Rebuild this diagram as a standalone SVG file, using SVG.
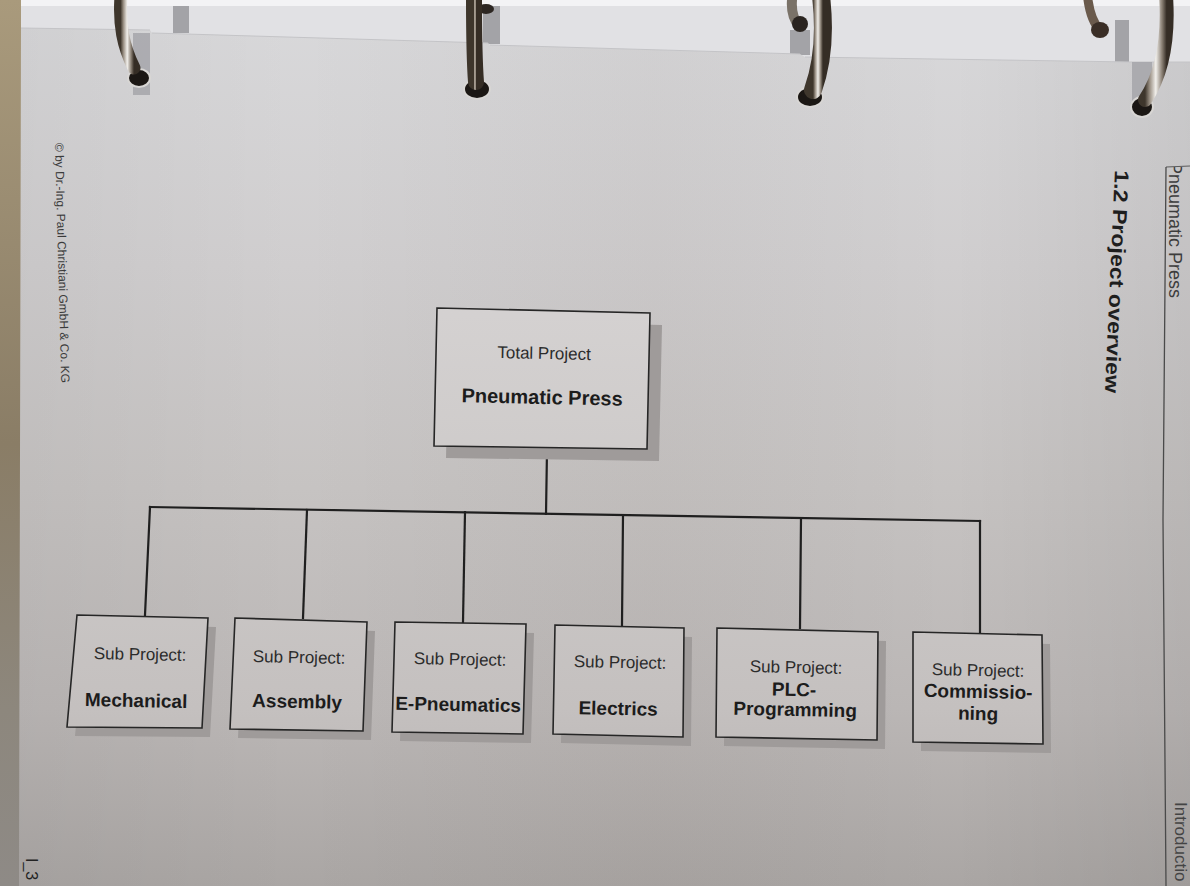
<svg xmlns="http://www.w3.org/2000/svg" width="1190" height="886" viewBox="0 0 1190 886">
  <defs>
    <linearGradient id="paper" gradientUnits="userSpaceOnUse" x1="0" y1="0" x2="0" y2="886">
      <stop offset="0" stop-color="#d9d9db"/>
      <stop offset="0.3" stop-color="#d0cecf"/>
      <stop offset="0.55" stop-color="#c6c3c2"/>
      <stop offset="0.8" stop-color="#bbb7b6"/>
      <stop offset="1" stop-color="#aaa6a4"/>
    </linearGradient>
    <linearGradient id="paperSide" gradientUnits="userSpaceOnUse" x1="0" y1="0" x2="1190" y2="0">
      <stop offset="0" stop-color="#000" stop-opacity="0.04"/>
      <stop offset="0.25" stop-color="#000" stop-opacity="0"/>
      <stop offset="0.55" stop-color="#3a2a20" stop-opacity="0.04"/>
      <stop offset="0.8" stop-color="#000" stop-opacity="0"/>
      <stop offset="1" stop-color="#000" stop-opacity="0.06"/>
    </linearGradient>
    <linearGradient id="boxFill" gradientUnits="userSpaceOnUse" x1="0" y1="0" x2="0" y2="886">
      <stop offset="0" stop-color="#dedcdd"/>
      <stop offset="0.3" stop-color="#d6d3d3"/>
      <stop offset="0.55" stop-color="#cdcac9"/>
      <stop offset="0.8" stop-color="#c4c0bf"/>
      <stop offset="1" stop-color="#b4b0ae"/>
    </linearGradient>
    <linearGradient id="binder" x1="0" y1="0" x2="0" y2="1">
      <stop offset="0" stop-color="#a99a7c"/>
      <stop offset="0.5" stop-color="#8a7d66"/>
      <stop offset="0.8" stop-color="#8d877d"/>
      <stop offset="1" stop-color="#8e8a86"/>
    </linearGradient>
    <linearGradient id="metal" x1="0" y1="0" x2="1" y2="0">
      <stop offset="0" stop-color="#3e362c"/>
      <stop offset="0.22" stop-color="#9a9084"/>
      <stop offset="0.5" stop-color="#f2f0ec"/>
      <stop offset="0.78" stop-color="#8c8276"/>
      <stop offset="1" stop-color="#352d25"/>
    </linearGradient>
    <clipPath id="headerClip">
      <rect x="1150" y="167" width="40" height="200"/>
    </clipPath>
    <style>
      .box { fill: url(#boxFill); stroke: #262626; stroke-width: 1.6; stroke-linejoin: miter; }
      .shadow { fill: #9f9b9a; }
      .wire { fill: none; stroke: #1f1f1f; stroke-width: 2.2; stroke-linecap: square; }
      .lbl { font-family: "Liberation Sans", Arial, Helvetica, sans-serif; text-anchor: middle; }
      .small { font-size: 17px; fill: #2b2b2b; }
      .big { font-size: 19px; font-weight: bold; fill: #1c1c1c; }
      .page { font-family: "Liberation Sans", Arial, Helvetica, sans-serif; }
      .rod { fill: none; stroke: url(#metal); stroke-linecap: round; }
      .hole { fill: #1b1714; stroke: #d8d6d4; stroke-width: 2; }
      .slot { fill: #a3a3a7; }
    </style>
  </defs>

  <!-- sheets behind the front page -->
  <rect x="0" y="0" width="1190" height="886" fill="#e1e1e4"/>
  <rect x="0" y="0" width="1190" height="6" fill="#f3f3f5"/>

  <!-- binder board on the left -->
  <rect x="0" y="0" width="21" height="886" fill="url(#binder)"/>

  <!-- ring slots in the back sheets -->
  <rect class="slot" x="173" y="6" width="16" height="27"/>
  <rect class="slot" x="483" y="6" width="17" height="38"/>
  <rect class="slot" x="790" y="30" width="20" height="25"/>
  <rect class="slot" x="1115" y="20" width="14" height="42"/>

  <!-- front page -->
  <path d="M21,28 L150,30 L152,33 L488,43 L490,45 L800,54 L805,57 L1132,62 L1190,62 L1190,886 L19,886 Z" fill="url(#paper)"/>
  <path d="M21,28 L150,30 L152,33 L488,43 L490,45 L800,54 L805,57 L1132,62 L1190,62 L1190,886 L19,886 Z" fill="url(#paperSide)"/>
  <path d="M21,28 L150,30 M152,33 L488,43 M490,45 L800,54 M805,57 L1132,62 L1190,62" fill="none" stroke="#c4c4c7" stroke-width="1"/>

  <!-- ring slots in the front page -->
  <rect class="slot" x="133" y="33" width="17" height="62" opacity="0.8"/>
  <rect class="slot" x="1132" y="62" width="20" height="40" opacity="0.8"/>

  <!-- binder rings -->
  <g id="rings">
    <path d="M1088,0 C1090,14 1094,24 1100,30" fill="none" stroke="#6a5a4c" stroke-width="9" stroke-linecap="round"/>
    <ellipse cx="1100" cy="30" rx="9" ry="8" fill="#3a2e26"/>
    <path d="M792,0 C791,12 794,20 799,26" fill="none" stroke="#7a7268" stroke-width="10" stroke-linecap="round"/>
    <ellipse cx="800" cy="24" rx="8" ry="8" fill="#2a2420"/>
    <ellipse cx="486" cy="9" rx="8" ry="5" fill="#2c2622"/>

    <ellipse class="hole" cx="139" cy="78" rx="11" ry="9"/>
    <path class="rod" d="M121,-4 C119,25 123,46 134,68" stroke-width="13"/>
    <ellipse class="hole" cx="477" cy="89" rx="13" ry="10"/>
    <path class="rod" d="M474,-4 C474,30 474,56 476,82" stroke-width="16"/>
    <ellipse class="hole" cx="810" cy="97" rx="13" ry="10"/>
    <path class="rod" d="M821,-4 C825,30 823,62 813,90" stroke-width="18"/>
    <ellipse class="hole" cx="1142" cy="107" rx="11" ry="10"/>
    <path class="rod" d="M1166,-4 C1169,40 1161,76 1145,100" stroke-width="14"/>
  </g>

  <!-- page furniture -->
  <g id="page-text" class="page">
    <text transform="translate(55,143) rotate(88.5)" font-size="12" fill="#3a3a3a">© by Dr.-Ing. Paul Christiani GmbH &amp; Co. KG</text>
    <text transform="translate(1115,170) rotate(92.6)" font-size="20" font-weight="bold" fill="#1e1e1e" textLength="223" lengthAdjust="spacingAndGlyphs">1.2 Project overview</text>
    <g clip-path="url(#headerClip)">
      <text transform="translate(1169,162) rotate(90)" font-size="18" fill="#3c3c3c">Pneumatic Press</text>
    </g>
    <path d="M1166,167 L1190,166" fill="none" stroke="#5a5a5a" stroke-width="1"/>
    <path d="M1166,167 L1163,520 L1166,886" fill="none" stroke="#4a4a4a" stroke-width="1.3"/>
    <text transform="translate(1175,802) rotate(90)" font-size="17" fill="#444">Introductio</text>
    <text transform="translate(26,858) rotate(90)" font-size="16" fill="#222">I_3</text>
  </g>

  <!-- tree connectors -->
  <g id="connectors">
    <path class="wire" d="M547,450 L546,514"/>
    <path class="wire" d="M150,507 L980,521"/>
    <path class="wire" d="M150,507 L145,615"/>
    <path class="wire" d="M307,510 L303,618"/>
    <path class="wire" d="M465,512 L463,622"/>
    <path class="wire" d="M623,515 L622,625"/>
    <path class="wire" d="M801,518 L800,628"/>
    <path class="wire" d="M980,521 L980,632"/>
  </g>

  <g id="node-total">
    <polygon class="shadow" points="449,320 662,325 659,461 446,458"/>
    <polygon class="box" points="437,308 650,313 647,449 434,446"/>
    <text class="lbl" transform="rotate(1.2 544 359)" x="544" y="359" font-size="17" fill="#2b2b2b">Total Project</text>
    <text class="lbl" transform="rotate(1.2 542 404)" x="542" y="404" font-size="20" font-weight="bold" fill="#1c1c1c">Pneumatic Press</text>
  </g>

  <g id="node-mechanical">
    <polygon class="shadow" points="85,624 216,627 210,737 75,736"/>
    <polygon class="box" points="77,615 208,618 202,728 67,727"/>
    <text class="lbl small" transform="rotate(1.2 140 660)" x="140" y="660">Sub Project:</text>
    <text class="lbl big" transform="rotate(1.2 136 707)" x="136" y="707">Mechanical</text>
  </g>

  <g id="node-assembly">
    <polygon class="shadow" points="243,627 375,631 371,740 238,738"/>
    <polygon class="box" points="235,618 367,622 363,731 230,729"/>
    <text class="lbl small" transform="rotate(1.2 299 663)" x="299" y="663">Sub Project:</text>
    <text class="lbl big" transform="rotate(1.2 297 708)" x="297" y="708">Assembly</text>
  </g>

  <g id="node-epneumatics">
    <polygon class="shadow" points="403,631 534,633 531,743 400,741"/>
    <polygon class="box" points="395,622 526,624 523,734 392,732"/>
    <text class="lbl small" transform="rotate(1.2 460 665)" x="460" y="665">Sub Project:</text>
    <text class="lbl big" transform="rotate(1.2 458 711)" x="458" y="711">E-Pneumatics</text>
  </g>

  <g id="node-electrics">
    <polygon class="shadow" points="563,634 692,637 691,746 561,743"/>
    <polygon class="box" points="555,625 684,628 683,737 553,734"/>
    <text class="lbl small" transform="rotate(1.2 620 668)" x="620" y="668">Sub Project:</text>
    <text class="lbl big" transform="rotate(1.2 618 715)" x="618" y="715">Electrics</text>
  </g>

  <g id="node-plc">
    <polygon class="shadow" points="725,637 886,641 885,749 724,746"/>
    <polygon class="box" points="717,628 878,632 877,740 716,737"/>
    <text class="lbl small" transform="rotate(1.2 796 673)" x="796" y="673">Sub Project:</text>
    <text class="lbl big" transform="rotate(1.2 794 696)" x="794" y="696">PLC-</text>
    <text class="lbl big" transform="rotate(1.2 795 716)" x="795" y="716">Programming</text>
  </g>

  <g id="node-commissioning">
    <polygon class="shadow" points="921,641 1050,644 1051,753 921,751"/>
    <polygon class="box" points="913,632 1042,635 1043,744 913,742"/>
    <text class="lbl small" transform="rotate(1.2 978 676)" x="978" y="676">Sub Project:</text>
    <text class="lbl big" transform="rotate(1.2 978 698)" x="978" y="698">Commissio-</text>
    <text class="lbl big" transform="rotate(1.2 978 720)" x="978" y="720">ning</text>
  </g>
</svg>
